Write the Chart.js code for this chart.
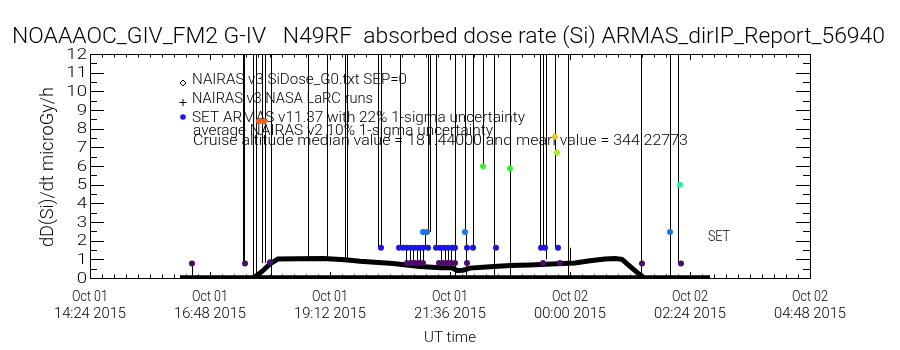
<!DOCTYPE html>
<html>
<head>
<meta charset="utf-8">
<script src="https://cdn.jsdelivr.net/npm/chart.js@4.4.1/dist/chart.umd.min.js"></script>
<style>
html,body{margin:0;padding:0;background:#fff}
#wrap{width:900px;height:350px}
</style>
</head>
<body>
<div id="wrap"><canvas id="c" width="900" height="350"></canvas></div>
<script>
// ---- data (UT hours since Oct 01 00:00, dose in microGy/h) ----
const xTickVals=[14.4,16.8,19.2,21.6,24.0,26.4,28.8];
const xTickDay=['Oct 01','Oct 01','Oct 01','Oct 01','Oct 02','Oct 02','Oct 02'];
const xTickTime=['14:24 2015','16:48 2015','19:12 2015','21:36 2015','00:00 2015','02:24 2015','04:48 2015'];
const yTickVals=[0,1,2,3,4,5,6,7,8,9,10,11,12];

// NAIRAS v3 SiDose (thick black profile)
const nairasTime=[17.70,17.84,18.00,18.16,18.54,19.06,19.50,19.80,20.46,21.00,21.40,21.64,21.74,21.86,22.00,22.40,22.80,23.20,23.74,24.10,24.40,24.70,24.90,25.04,25.20,25.34,25.46];
const nairasDose=[0.05,0.35,0.75,1.02,1.03,1.05,0.98,0.90,0.78,0.62,0.55,0.55,0.40,0.42,0.53,0.60,0.67,0.70,0.76,0.80,0.92,1.02,1.05,1.00,0.62,0.30,0.05];

// NAIRAS v3 NASA LaRC runs (flat at ground)
const larcTime=[16.20,26.80];
const larcDose=[0.04,0.04];

// SET ARMAS points
const armasTime=[16.44,17.50,17.78,17.88,18.00,
  20.22,20.58,20.66,20.74,20.82,20.90,20.98,21.06,21.16,
  20.74,20.82,20.90,20.98,21.06,
  21.06,21.14,
  21.32,21.40,21.48,21.56,21.64,21.70,
  21.38,21.46,21.54,21.62,21.70,
  21.90,21.94,21.94,22.06,22.26,22.52,22.80,
  23.42,23.50,23.46,23.70,23.74,23.76,23.80,
  25.44,26.00,26.20,26.22];
const armasDose=[0.78,0.78,8.40,8.40,0.85,
  1.62,1.62,1.62,1.62,1.62,1.62,1.62,1.62,1.62,
  0.80,0.80,0.80,0.80,0.80,
  2.47,2.47,
  1.62,1.62,1.62,1.62,1.62,1.62,
  0.80,0.80,0.80,0.80,0.80,
  2.47,1.62,0.80,1.62,5.99,1.62,5.87,
  1.62,1.62,0.80,7.57,6.72,1.62,0.80,
  0.78,2.47,5.00,0.78];

// uncertainty bars (low / high ends, high ends run off the top)
const errTime=[17.47,17.49,17.67,17.73,17.85,17.91,18.03,18.77,19.15,19.51,19.55,20.17,20.23,20.61,21.17,21.21,21.33,21.71,21.91,22.07,22.27,22.49,22.81,23.41,23.47,23.53,23.71,23.97,25.43,26.01,26.17,
  16.45,20.73,20.81,20.87,20.95,21.01,21.07,21.11,21.43,21.51,21.57,21.63,21.93,24.01];
const errLow=[0.8,0.8,0,0,0.8,0.8,0.1,1.0,1.0,1.0,1.0,1.62,1.62,1.62,2.47,2.47,1.62,0,2.47,1.62,5.99,0,0,1.62,1.62,1.0,1.62,0,0,0,0.78,
  0,0.8,0.8,0.8,0.8,0.8,0.8,1.62,0.8,0.8,0.8,0.8,0,0.8];
const errHigh=[13,13,13,13,13,13,13,13,13,13,13,13,13,13,13,13,13,13,13,13,13,13,13,13,13,13,13,13,13,13,13,
  0.78,1.62,1.62,1.62,1.62,1.62,1.62,2.47,1.62,1.62,1.62,1.62,2.47,1.62];

// ---- helpers ----
const colorStops=[[0.8,[75,12,107]],[1.6,[26,20,230]],[2.5,[30,120,230]],[5.0,[40,240,160]],[5.9,[51,238,51]],[6.7,[160,240,40]],[7.5,[240,208,32]],[8.4,[240,96,24]]];
function doseColor(v){
  if(v<=colorStops[0][0])return 'rgb('+colorStops[0][1]+')';
  for(let i=1;i<colorStops.length;i++){
    const [v1,c1]=colorStops[i];
    if(v<=v1){
      const [v0,c0]=colorStops[i-1];const r=(v-v0)/(v1-v0);
      return 'rgb('+c0.map((c,k)=>Math.round(c+(c1[k]-c)*r)).join(',')+')';
    }
  }
  return 'rgb('+colorStops[colorStops.length-1][1]+')';
}
const FONT='Roboto, "Liberation Sans", Arial, sans-serif';
function fnt(size){return '300 '+size+'px '+FONT;}
function txt(ctx,s,x,y,size,align,w){
  ctx.save();
  ctx.font=fnt(size);
  const k=w?w/ctx.measureText(s).width:1;
  ctx.translate(x,y);ctx.scale(k,1);
  ctx.textAlign=align;ctx.textBaseline='middle';ctx.fillStyle='#000';
  ctx.fillText(s,0,0);
  ctx.restore();
}

const errData=[];
errTime.forEach((t,i)=>{errData.push({x:t,y:errLow[i]},{x:t,y:errHigh[i]},{x:t,y:null});});

// ---- frame, ticks and texts in IDL style ----
const idlFrame={
  id:'idlFrame',
  beforeDatasetsDraw(chart){
    const ctx=chart.ctx;
    txt(ctx,'NAIRAS v3 SiDose_G0.txt SEP=0',192,80.7,14,'left',215);
    txt(ctx,'NAIRAS v3 NASA LaRC runs',192,99.3,14,'left',181);
    txt(ctx,'SET ARMAS v11.37 with 22% 1-sigma uncertainty',192,118.3,14,'left',333);
    txt(ctx,'average NAIRAS v2 10% 1-sigma uncertainty',193,131.7,14,'left',300);
    txt(ctx,'Cruise altitude median value = 181.44000 and mean value = 344.22773',193,141.7,14,'left',495);
    // legend symbols
    ctx.save();ctx.strokeStyle='#000';ctx.lineWidth=1;
    ctx.beginPath();ctx.moveTo(183,80);ctx.lineTo(186,83);ctx.lineTo(183,86);ctx.lineTo(180,83);ctx.closePath();ctx.stroke();
    ctx.beginPath();ctx.moveTo(179.5,102.5);ctx.lineTo(186.5,102.5);ctx.moveTo(183,99);ctx.lineTo(183,106);ctx.stroke();
    ctx.fillStyle=doseColor(1.6);ctx.beginPath();ctx.arc(183,117,2.8,0,Math.PI*2);ctx.fill();
    ctx.restore();
    txt(ctx,'SET',719,237.5,14,'center',22);
  },
  afterDraw(chart){
    const ctx=chart.ctx,a=chart.chartArea,xs=chart.scales.x,ys=chart.scales.y;
    ctx.save();
    ctx.strokeStyle='#000';ctx.lineWidth=1;
    ctx.strokeRect(Math.round(a.left)+0.5,Math.round(a.top)+0.5,Math.round(a.right-a.left),Math.round(a.bottom-a.top));
    ctx.beginPath();
    for(let i=0;i<=60;i++){
      const v=14.4+i*0.24,px=Math.round(xs.getPixelForValue(v))+0.5,len=(i%10===0)?6:3.5;
      ctx.moveTo(px,a.bottom);ctx.lineTo(px,a.bottom-len);
      ctx.moveTo(px,a.top);ctx.lineTo(px,a.top+len);
    }
    for(let i=0;i<=24;i++){
      const v=i*0.5,py=Math.round(ys.getPixelForValue(v))+0.5,len=(i%2===0)?14:7;
      ctx.moveTo(a.left,py);ctx.lineTo(a.left+len,py);
      ctx.moveTo(a.right,py);ctx.lineTo(a.right-len,py);
    }
    ctx.stroke();ctx.restore();
    // tick labels
    ctx.save();ctx.font=fnt(15);
    const ky=20.7/ctx.measureText('12').width;ctx.restore();
    yTickVals.forEach(v=>{
      ctx.save();ctx.font=fnt(15);const w=ctx.measureText(String(v)).width*ky;ctx.restore();
      txt(ctx,String(v),87,ys.getPixelForValue(v)+1,15,'right',w);
    });
    xTickVals.forEach((v,i)=>{
      const px=xs.getPixelForValue(v);
      txt(ctx,xTickDay[i],px,297,15,'center',36);
      txt(ctx,xTickTime[i],px,314,15,'center',72);
    });
    txt(ctx,'UT time',450,338,15,'center',52);
    // y title
    ctx.save();ctx.translate(48,167);ctx.rotate(-Math.PI/2);
    txt(ctx,'dD(Si)/dt microGy/h',0,0,18,'center',160);
    ctx.restore();
    // main title
    txt(ctx,'NOAAAOC_GIV_FM2 G-IV   N49RF  absorbed dose rate (Si) ARMAS_dirIP_Report_56940',448.5,37,22,'center',873);
  }
};

new Chart(document.getElementById('c'),{
  type:'scatter',
  data:{datasets:[
    {label:'err',data:errData,showLine:true,spanGaps:false,borderColor:'#000',borderWidth:1,pointRadius:0,order:4,clip:0},
    {label:'larc',data:larcTime.map((t,i)=>({x:t,y:larcDose[i]})),showLine:true,borderColor:'#000',borderWidth:4,pointRadius:0,order:3},
    {label:'nairas',data:nairasTime.map((t,i)=>({x:t,y:nairasDose[i]})),showLine:true,borderColor:'#000',borderWidth:5,pointRadius:0,tension:0,order:2},
    {label:'armas',data:armasTime.map((t,i)=>({x:t,y:armasDose[i]})),showLine:false,pointRadius:3,pointBorderWidth:0,
      pointBackgroundColor:c=>doseColor(c.raw?c.raw.y:1),order:1}
  ]},
  options:{
    responsive:false,animation:false,devicePixelRatio:1,
    layout:{padding:{left:0,right:90,top:54,bottom:0}},
    plugins:{legend:{display:false},tooltip:{enabled:false},title:{display:false}},
    scales:{
      x:{type:'linear',min:14.4,max:28.8,grid:{display:false},border:{display:false},ticks:{display:false},
        afterFit(s){s.height=72;}},
      y:{type:'linear',min:0,max:12,grid:{display:false},border:{display:false},ticks:{display:false},
        afterFit(s){s.width=90;}}
    }
  },
  plugins:[idlFrame]
});
</script>
</body>
</html>
